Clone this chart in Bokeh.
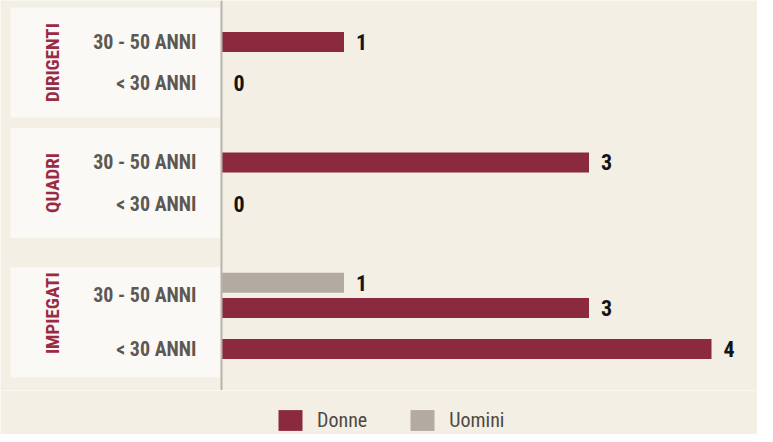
import math
from bokeh.plotting import figure
from bokeh.layouts import column
from bokeh.models import (ColumnDataSource, FactorRange, Range1d, Span, Legend, LegendItem)
from bokeh.core.properties import value
from bokeh.embed import file_html
from bokeh.resources import INLINE

# ---- data ----
groups = ["DIRIGENTI", "DIRIGENTI", "QUADRI", "QUADRI", "IMPIEGATI", "IMPIEGATI"]
ages = ["30 - 50 ANNI", "< 30 ANNI", "30 - 50 ANNI", "< 30 ANNI", "30 - 50 ANNI", "< 30 ANNI"]
donne = [1, 0, 3, 0, 3, 4]
uomini = [None, None, None, None, 1, None]
group_names = ["DIRIGENTI", "QUADRI", "IMPIEGATI"]
series_names = ["Donne", "Uomini"]

# ---- style ----
FONT = "Roboto Condensed"
BG = "#f3efe4"
BOX = "#faf9f5"
C_DONNE = "#8b2a3f"
C_UOMINI = "#b3aaa1"
GROUP_TXT = "#9a2b45"
AGE_TXT = "#5d5853"
VAL_TXT = "#141414"
LEG_TXT = "#4d4944"
AXIS_C = "#bab3aa"

W, H, LEG_H = 757, 390, 44
PX = 1 / 122.5
AXIS_PX = 221
SUBPAD = 0.64

ordered = []
rows_d = dict(y=[], v=[])
rows_u = dict(y=[], v=[])
n_in_row = {}
for g, a, d, u in zip(groups, ages, donne, uomini):
    if u is not None:
        f = (g, a, "Uomini")
        ordered.append(f)
        rows_u["y"].append(f)
        rows_u["v"].append(u)
    f = (g, a, "Donne")
    ordered.append(f)
    rows_d["y"].append(f)
    rows_d["v"].append(d)
    n_in_row[(g, a)] = 1 + (u is not None)

y_range = FactorRange(factors=list(reversed(ordered)), group_padding=2.17,
                      subgroup_padding=SUBPAD, factor_padding=0,
                      range_padding=1.16, range_padding_units="absolute")
x_range = Range1d(-AXIS_PX * PX, (W - AXIS_PX) * PX)

p = figure(width=W, height=H, output_backend="svg", toolbar_location=None,
           x_range=x_range, y_range=y_range, x_axis_location=None,
           y_axis_location=None, min_border=0,
           background_fill_color=BG, border_fill_color=BG, outline_line_color=None)
p.xgrid.visible = False
p.ygrid.visible = False

# label panels: centred midway between the two age rows of each group
box_y = []
for gname in group_names:
    rows = [(g, a) for g, a in zip(groups, ages) if g == gname]
    first, last = rows[0], rows[-1]
    dist = n_in_row[first] / 2 + SUBPAD + n_in_row[last] / 2
    box_y.append([first[0], first[1], -dist / 2])
box_left_px, box_right_px = 10, 220
box_src = ColumnDataSource(dict(y=box_y,
                                x=[((box_left_px + box_right_px) / 2 - AXIS_PX) * PX] * len(group_names)))
p.rect(x="x", y="y", width=box_right_px - box_left_px, width_units="screen",
       height=110, height_units="screen", source=box_src,
       fill_color=BOX, line_color=None)

p.add_layout(Span(location=0, dimension="height", line_color=AXIS_C, line_width=2))

src_d = ColumnDataSource(rows_d)
src_u = ColumnDataSource(rows_u)
r_d = p.hbar(y="y", left=0, right="v", height=0.8, source=src_d,
             fill_color=C_DONNE, line_color=None)
r_u = p.hbar(y="y", left=0, right="v", height=0.8, source=src_u,
             fill_color=C_UOMINI, line_color=None)

for s in (src_d, src_u):
    p.text(x="v", y="y", text="v", source=s, x_offset=12, text_align="left",
           text_baseline="middle", text_font=value(FONT), text_font_size="22px",
           text_font_style="bold", text_color=VAL_TXT)

age_src = ColumnDataSource(dict(y=[(g, a) for g, a in zip(groups, ages)], t=ages,
                                x=[0] * len(ages)))
p.text(x="x", y="y", text="t", source=age_src, x_offset=-25, text_align="right",
       text_baseline="middle", text_font=value(FONT), text_font_size="20px",
       text_font_style="bold", text_color=AGE_TXT)

grp_src = ColumnDataSource(dict(y=group_names, t=group_names, x=[0] * len(group_names)))
p.text(x="x", y="y", text="t", source=grp_src, x_offset=-169, angle=math.pi / 2,
       text_align="center", text_baseline="middle", text_font=value(FONT),
       text_font_size="19px", text_font_style="bold", text_color=GROUP_TXT)

# legend strip
lf = figure(width=W, height=LEG_H, output_backend="svg", toolbar_location=None,
            x_range=Range1d(0, 1), y_range=Range1d(0, 1), x_axis_location=None,
            y_axis_location=None, min_border=0, background_fill_color=BG,
            border_fill_color=BG, outline_line_color=None)
lf.xgrid.visible = False
lf.ygrid.visible = False
# legend swatch renderers sit outside the visible range
key_src = ColumnDataSource(dict(y=[-5], r=[0]))
l_d = lf.hbar(y="y", right="r", source=key_src, fill_color=C_DONNE, line_color=None)
l_u = lf.hbar(y="y", right="r", source=key_src, fill_color=C_UOMINI, line_color=None)
legend = Legend(items=[LegendItem(label=series_names[0], renderers=[l_d]),
                       LegendItem(label=series_names[1], renderers=[l_u])],
                location=(275, 1), orientation="horizontal",
                glyph_width=30, glyph_height=26, label_height=26,
                label_standoff=12, spacing=40, padding=0, margin=0,
                label_text_font=FONT, label_text_font_size="20px",
                label_text_color=LEG_TXT, background_fill_alpha=0,
                border_line_alpha=0)
lf.add_layout(legend, "center")

open("out.html", "w").write(file_html(column(p, lf, spacing=0), INLINE))
